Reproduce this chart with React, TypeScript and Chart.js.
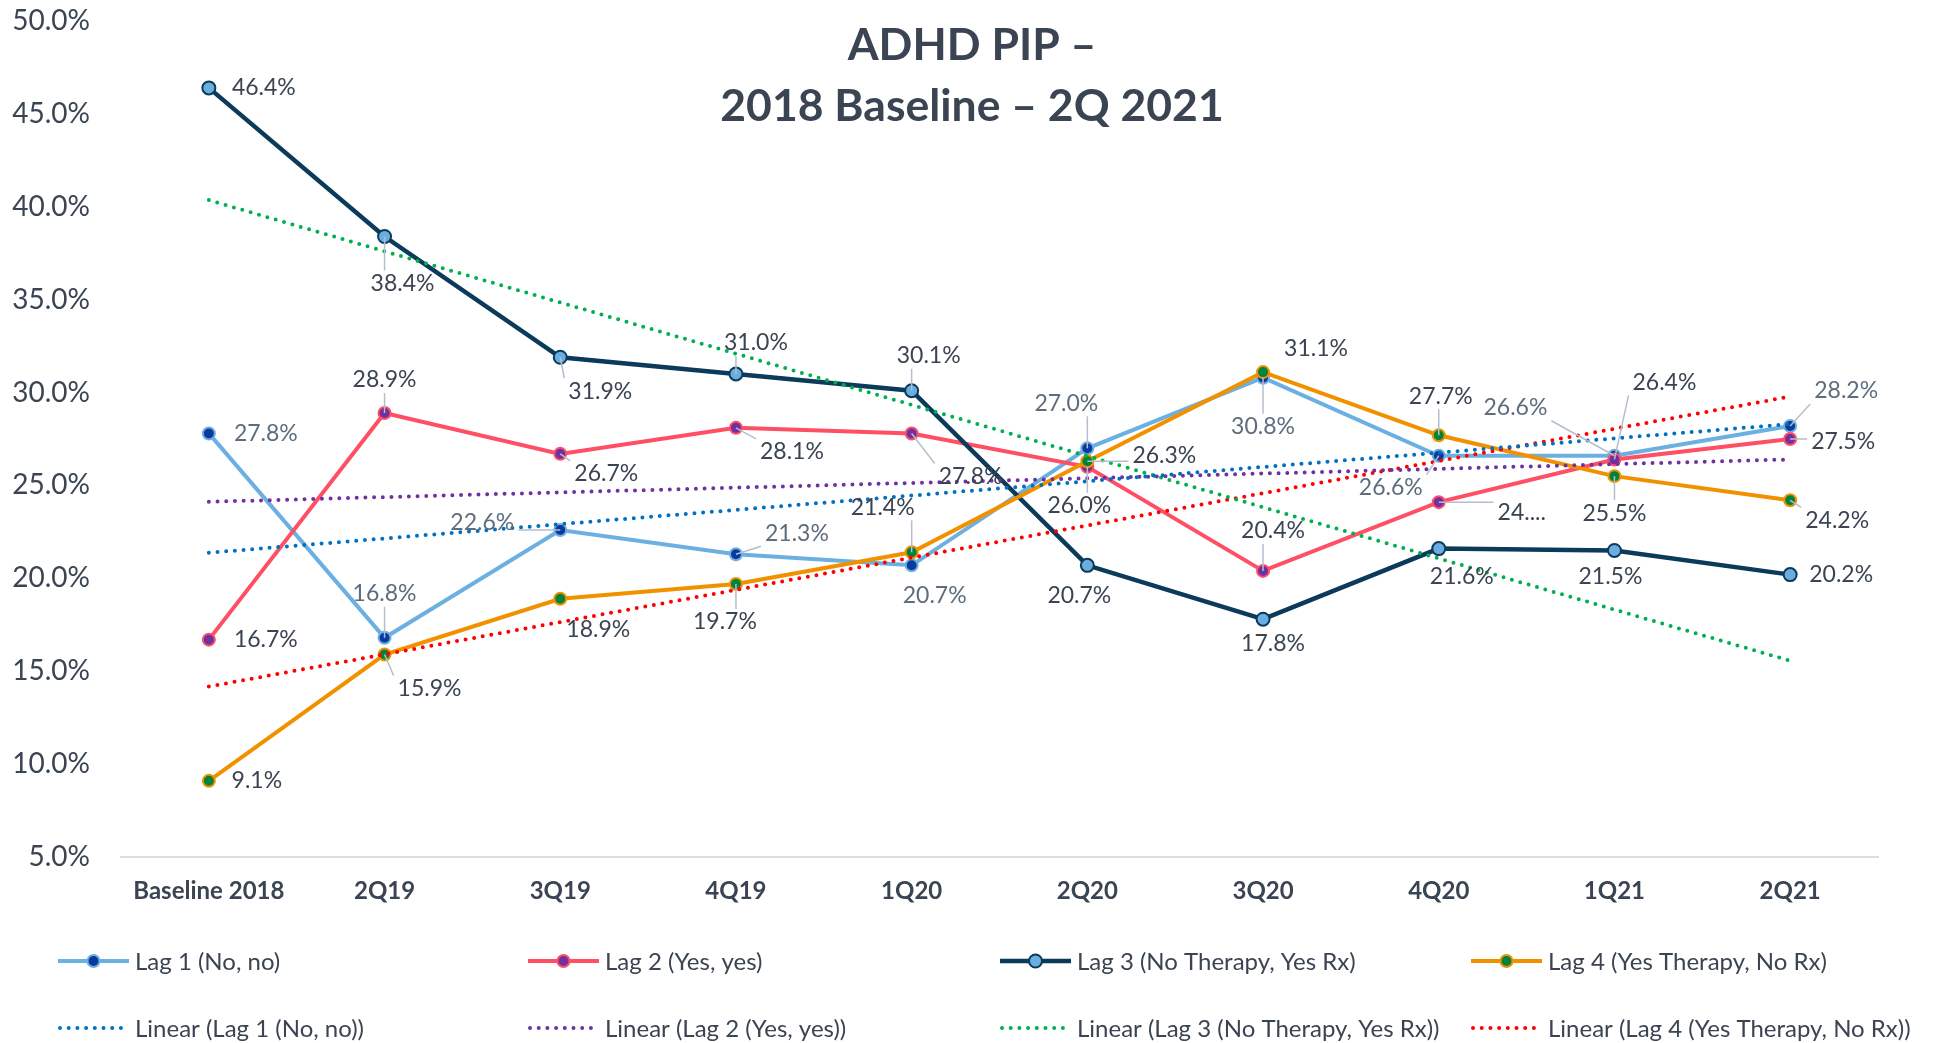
import React, { useEffect, useRef } from "react";
import { Chart, registerables } from "chart.js";

Chart.register(...registerables);

const CATEGORIES = ["Baseline 2018", "2Q19", "3Q19", "4Q19", "1Q20", "2Q20", "3Q20", "4Q20", "1Q21", "2Q21"];
const LAG1 = [27.8, 16.8, 22.6, 21.3, 20.7, 27.0, 30.8, 26.6, 26.6, 28.2];
const LAG2 = [16.7, 28.9, 26.7, 28.1, 27.8, 26.0, 20.4, 24.1, 26.4, 27.5];
const LAG3 = [46.4, 38.4, 31.9, 31.0, 30.1, 20.7, 17.8, 21.6, 21.5, 20.2];
const LAG4 = [9.1, 15.9, 18.9, 19.7, 21.4, 26.3, 31.1, 27.7, 25.5, 24.2];
const SERIES_NAMES = ["Lag 1 (No, no)", "Lag 2 (Yes, yes)", "Lag 3 (No Therapy, Yes Rx)", "Lag 4 (Yes Therapy, No Rx)"];
const Y_TICKS = { min: 5, max: 50, step: 5 };
const TITLE_LINES = ["ADHD PIP \u2013", "2018 Baseline \u2013 2Q 2021"];
// Data label text overrides (Excel truncated this one)
const LABEL_OVERRIDES: Record<string, string> = { "1-7": "24...." };

// label placement: [dx, dy, leader]
const LABEL_POS: number[][][] = [
  [[57, 0, 0], [0, -44, 1], [-78, -7, 1], [61, -21, 1], [23, 30, 0], [-21, -45, 1], [0, 49, 1], [-48, 32, 1], [-99, -48, 1], [56, -35, 1]],
  [[57, 0, 0], [0, -33, 1], [46, 20, 1], [56, 24, 1], [59, 43, 1], [-8, 39, 1], [10, -40, 1], [83, 10, 1], [50, -77, 1], [53, 3, 1]],
  [[55, 0, 0], [18, 47, 1], [40, 34, 1], [20, -31, 1], [17, -35, 1], [-8, 30, 0], [10, 24, 0], [23, 28, 0], [-4, 26, 0], [51, 0, 0]],
  [[48, 0, 0], [45, 34, 1], [38, 31, 0], [-11, 38, 1], [-29, -45, 1], [77, -6, 1], [53, -24, 0], [2, -39, 1], [0, 37, 1], [47, 20, 1]],
];

const LINE_COLORS = ["#6cb0e2", "#ff4f64", "#0b3a5a", "#f29100"];
const MARKER_FILLS = ["#0a3a9e", "#7030a0", "#6aaee0", "#00843d"];
const TREND_COLORS = ["#0070c0", "#7030a0", "#00b050", "#ff0000"];
const LABEL_COLORS = ["#5d6d7e", "#3a4452", "#3a4452", "#3a4452"];
const TEXT = "#3a4452";
const FONT = "Lato";

function trend(vals: number[]): number[] {
  const n = vals.length;
  const xs = vals.map((_, i) => i + 1);
  const mx = xs.reduce((a, b) => a + b, 0) / n;
  const my = vals.reduce((a, b) => a + b, 0) / n;
  let sxy = 0, sxx = 0;
  xs.forEach((x, i) => { sxy += (x - mx) * (vals[i] - my); sxx += (x - mx) * (x - mx); });
  const slope = sxy / sxx;
  return xs.map((x) => my + slope * (x - mx));
}

export default function App() {
  const ref = useRef<HTMLCanvasElement>(null);
  useEffect(() => {
    document.body.style.margin = "0";
    document.body.style.overflow = "hidden";
    const series = [LAG1, LAG2, LAG3, LAG4];
    const lineDatasets = series.map((d, i) => ({
      label: SERIES_NAMES[i],
      data: d,
      borderColor: LINE_COLORS[i],
      backgroundColor: MARKER_FILLS[i],
      pointBackgroundColor: MARKER_FILLS[i],
      pointBorderColor: LINE_COLORS[i],
      pointBorderWidth: 2,
      pointRadius: i === 2 ? 6.5 : 6,
      borderWidth: i === 2 ? 4.5 : 4,
      tension: 0,
      order: 10 - i,
    }));
    const trendDatasets = series.map((d, i) => ({
      label: "Linear (" + SERIES_NAMES[i] + ")",
      data: trend(d),
      borderColor: TREND_COLORS[i],
      borderWidth: 4,
      borderDash: [0, 8.7],
      borderCapStyle: "round" as const,
      pointRadius: 0,
      tension: 0,
      order: 1,
    }));

    const labelPlugin = {
      id: "dataLabels",
      afterDatasetsDraw(chart: any) {
        const ctx = chart.ctx;
        ctx.save();
        ctx.font = `23px ${FONT}`;
        ctx.textBaseline = "middle";
        ctx.textAlign = "center";
        for (let i = 0; i < 4; i++) {
          const meta = chart.getDatasetMeta(i);
          meta.data.forEach((pt: any, j: number) => {
            const [dx, dy, leader] = LABEL_POS[i][j];
            const txt = LABEL_OVERRIDES[`${i}-${j}`] ?? series[i][j].toFixed(1) + "%";
            const cx = pt.x + dx, cy = pt.y + dy;
            const w = ctx.measureText(txt).width;
            if (leader) {
              const l = cx - w / 2 - 4, r = cx + w / 2 + 4, t = cy - 13, b = cy + 13;
              const qx = Math.min(Math.max(pt.x, l), r);
              const qy = Math.min(Math.max(pt.y, t), b);
              ctx.strokeStyle = "#b4bfcc";
              ctx.lineWidth = 1.5;
              ctx.beginPath();
              ctx.moveTo(pt.x, pt.y);
              ctx.lineTo(qx, qy);
              ctx.stroke();
            }
            ctx.fillStyle = LABEL_COLORS[i];
            ctx.fillText(txt, cx, cy);
          });
        }
        ctx.restore();
      },
    };

    const overlayPlugin = {
      id: "overlay",
      afterDraw(chart: any) {
        const ctx = chart.ctx;
        ctx.save();
        ctx.fillStyle = TEXT;
        ctx.textAlign = "center";
        ctx.textBaseline = "middle";
        ctx.font = `bold 44.5px ${FONT}`;
        ctx.fillText(TITLE_LINES[0], 972, 46);
        ctx.fillText(TITLE_LINES[1], 972, 107);
        const colX = [58, 528, 1000, 1471];
        const rowY = [961, 1028];
        ctx.font = `24px ${FONT}`;
        ctx.textAlign = "left";
        for (let i = 0; i < 4; i++) {
          const x0 = colX[i];
          let y = rowY[0];
          ctx.strokeStyle = LINE_COLORS[i];
          ctx.lineWidth = i === 2 ? 4.5 : 4;
          ctx.setLineDash([]);
          ctx.lineCap = "butt";
          ctx.beginPath();
          ctx.moveTo(x0, y);
          ctx.lineTo(x0 + 71, y);
          ctx.stroke();
          ctx.beginPath();
          ctx.arc(x0 + 35.5, y, i === 2 ? 6.5 : 6, 0, Math.PI * 2);
          ctx.fillStyle = MARKER_FILLS[i];
          ctx.fill();
          ctx.lineWidth = 2;
          ctx.strokeStyle = LINE_COLORS[i];
          ctx.stroke();
          ctx.fillStyle = TEXT;
          ctx.fillText(SERIES_NAMES[i], x0 + 77, y + 1);
          y = rowY[1];
          ctx.strokeStyle = TREND_COLORS[i];
          ctx.lineWidth = 4;
          ctx.lineCap = "round";
          ctx.setLineDash([0, 8.7]);
          ctx.beginPath();
          ctx.moveTo(x0 + 2, y);
          ctx.lineTo(x0 + 64, y);
          ctx.stroke();
          ctx.setLineDash([]);
          ctx.fillStyle = TEXT;
          ctx.fillText("Linear (" + SERIES_NAMES[i] + ")", x0 + 77, y + 1);
        }
        ctx.restore();
      },
    };

    const chart = new Chart(ref.current!, {
      type: "line",
      data: { labels: CATEGORIES, datasets: [...lineDatasets, ...trendDatasets] as any },
      options: {
        animation: false,
        responsive: false,
        maintainAspectRatio: false,
        layout: { padding: { top: 21, right: 62, left: 0, bottom: 0 } },
        plugins: { legend: { display: false }, title: { display: false }, tooltip: { enabled: false } },
        scales: {
          x: {
            offset: true,
            grid: { display: false, drawTicks: false },
            border: { display: true, color: "#d9dee4", width: 2 },
            ticks: { font: { family: FONT, size: 24, weight: "bold" }, color: TEXT, padding: 20, maxRotation: 0, autoSkip: false },
            afterFit: (s: any) => { s.height = 186; s.paddingLeft = 0; s.paddingRight = 0; },
          },
          y: {
            min: Y_TICKS.min,
            max: Y_TICKS.max,
            ticks: { stepSize: Y_TICKS.step, callback: (v: any) => Number(v).toFixed(1) + "%", font: { family: FONT, size: 28 }, color: TEXT, padding: 31 },
            grid: { display: false, drawTicks: false },
            border: { display: false },
            afterFit: (s: any) => { s.width = 121; s.paddingTop = 0; s.paddingBottom = 0; },
          },
        },
      } as any,
      plugins: [labelPlugin, overlayPlugin],
    });
    return () => chart.destroy();
  }, []);
  return (
    <div style={{ width: 1940, height: 1043, background: "#fff" }}>
      <canvas ref={ref} width={1940} height={1043} style={{ display: "block" }} />
    </div>
  );
}
